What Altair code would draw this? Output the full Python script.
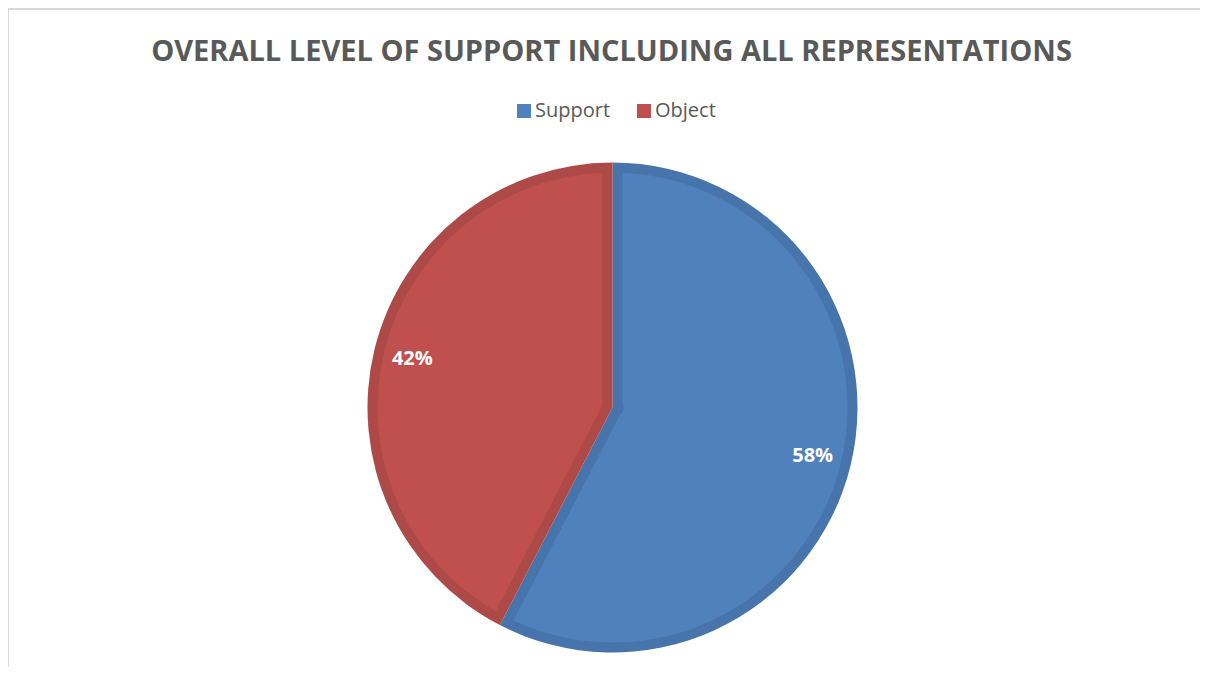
import json
import altair as alt
import pandas as pd

# ---- data ----
categories = ["Support", "Object"]
values = [57.6, 42.4]
fill_colors = ["#4F81BD", "#C0504D"]
band_colors = ["#4674AB", "#AD4946"]
title_text = "OVERALL LEVEL OF SUPPORT INCLUDING ALL REPRESENTATIONS"

df = pd.DataFrame({
    "category": categories,
    "value": values,
    "idx": list(range(len(categories))),
})

# ---- layout / style ----
W, H = 1192, 659
CX, CY = 604.5, 399.5
R = 245
BAND = 10
INNER = 11
PAD = 0.085
GREY = "#595959"
FONT = "Open Sans"

band_map = json.dumps(dict(zip(categories, band_colors)))

base = alt.Chart(df).encode(
    theta=alt.Theta("value:Q", stack=True),
    order=alt.Order("idx:Q"),
    x=alt.value(CX),
    y=alt.value(CY),
)

dark = base.transform_calculate(
    band=f"{band_map}[datum.category]"
).mark_arc(outerRadius=R, innerRadius=0).encode(
    fill=alt.Fill("band:N", scale=None)
)

light = base.mark_arc(outerRadius=R - BAND, innerRadius=INNER, padAngle=PAD).encode(
    color=alt.Color(
        "category:N",
        scale=alt.Scale(domain=categories, range=fill_colors),
        legend=alt.Legend(
            title=None,
            orient="none",
            legendX=506,
            legendY=93,
            direction="horizontal",
            symbolType="square",
            symbolSize=196,
            symbolStrokeWidth=0,
            symbolOpacity=1,
            labelFont=FONT,
            labelFontSize=20,
            labelColor=GREY,
            labelOffset=1,
            columnPadding=23,
        ),
    )
)

labels = base.transform_joinaggregate(
    total="sum(value)"
).transform_calculate(
    pct="datum.value / datum.total"
).mark_text(
    radius=206, font=FONT, fontSize=20, fontWeight="bold", color="white"
).encode(
    text=alt.Text("pct:Q", format=".0%")
)

border_top = alt.Chart(df).mark_rule(color="#D9D9D9", strokeWidth=2).encode(
    x=alt.value(0), x2=alt.value(W), y=alt.value(1)
)
border_left = alt.Chart(df).mark_rule(color="#D9D9D9", strokeWidth=2).encode(
    x=alt.value(0), y=alt.value(0), y2=alt.value(H)
)

chart = alt.layer(border_top, border_left, dark, light, labels).properties(
    width=W,
    height=H,
    padding=0,
    autosize="none",
    title=alt.Title(
        title_text,
        font=FONT,
        fontSize=29,
        fontWeight="bold",
        color=GREY,
        anchor="middle",
        offset=0,
        dx=7.5,
        dy=60,
    ),
).configure_view(stroke=None)

chart.save("out.html", embed_options={"renderer": "svg", "actions": False})
